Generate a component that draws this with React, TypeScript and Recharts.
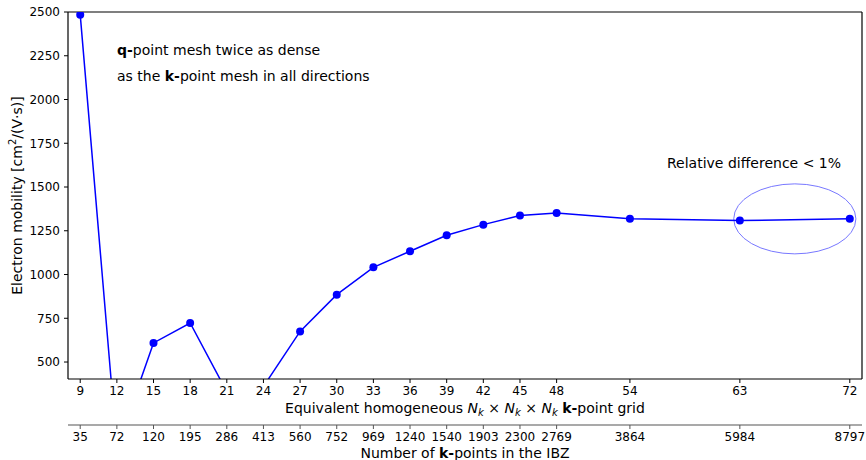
import {
  Line,
  LineChart,
  ReferenceArea,
  ReferenceLine,
  XAxis,
  YAxis,
} from "recharts";

// Nk for the homogeneous k-point grid, and matching number of k-points in the IBZ
const kGrid = [9, 12, 15, 18, 21, 24, 27, 30, 33, 36, 39, 42, 45, 48, 54, 63, 72];
const kPointsIBZ = [
  35, 72, 120, 195, 286, 413, 560, 752, 969, 1240, 1540, 1903, 2300, 2769,
  3864, 5984, 8797,
];
// electron mobility in cm^2/(V s); 12, 21 and 24 fall below the visible range
const mobility = [
  2485, 10, 609, 723, 330, 360, 675, 885, 1041, 1133, 1224, 1285, 1337, 1352,
  1318, 1308, 1318,
];
const yTicks = [500, 750, 1000, 1250, 1500, 1750, 2000, 2250, 2500];
const xDomain = [8, 73];
const yDomain = [403, 2500];

// converged region marked with an ellipse
const convergedX = [62.5, 72.5];
const convergedY = [1118, 1518];

const data = kGrid.map((k, i) => ({
  k,
  kpts: kPointsIBZ[i],
  mobility: mobility[i],
}));

const FONT = "'DejaVu Sans', sans-serif";
const tickStyle = { fontSize: 12, fill: "#000", fontFamily: FONT };

function GridLabel({ viewBox }: any) {
  const cx = viewBox.x + viewBox.width / 2;
  return (
    <text
      x={cx}
      y={viewBox.y + 34}
      textAnchor="middle"
      fontSize={14}
      fontFamily={FONT}
      fill="#000"
    >
      Equivalent homogeneous <tspan fontStyle="italic">N</tspan>
      <tspan fontStyle="italic" fontSize={10} dy={3}>k</tspan>
      <tspan dy={-3}> × </tspan>
      <tspan fontStyle="italic">N</tspan>
      <tspan fontStyle="italic" fontSize={10} dy={3}>k</tspan>
      <tspan dy={-3}> × </tspan>
      <tspan fontStyle="italic">N</tspan>
      <tspan fontStyle="italic" fontSize={10} dy={3}>k</tspan>
      <tspan dy={-3}> </tspan>
      <tspan fontWeight="bold">k-</tspan>point grid
    </text>
  );
}

function KptsLabel({ viewBox }: any) {
  const cx = viewBox.x + viewBox.width / 2;
  return (
    <text
      x={cx}
      y={viewBox.y + 33}
      textAnchor="middle"
      fontSize={14}
      fontFamily={FONT}
      fill="#000"
    >
      Number of <tspan fontWeight="bold">k-</tspan>points in the IBZ
    </text>
  );
}

function MobilityLabel({ viewBox }: any) {
  const cx = viewBox.x + 17;
  const cy = viewBox.y + viewBox.height / 2;
  return (
    <text
      x={cx}
      y={cy}
      transform={`rotate(-90, ${cx}, ${cy})`}
      textAnchor="middle"
      dominantBaseline="central"
      fontSize={14}
      fontFamily={FONT}
      fill="#000"
    >
      Electron mobility [cm<tspan fontSize={10} dy={-5}>2</tspan>
      <tspan dy={5}>/(V·s)]</tspan>
    </text>
  );
}

function EllipseShape(props: any) {
  const { x, y, width, height } = props;
  return (
    <ellipse
      cx={x + width / 2}
      cy={y + height / 2}
      rx={width / 2}
      ry={height / 2}
      fill="none"
      stroke="#7878ff"
      strokeWidth={1}
    />
  );
}

const noteStyle = {
  position: "absolute" as const,
  fontFamily: FONT,
  fontSize: 14,
  color: "#000",
  whiteSpace: "nowrap" as const,
};

export default function App() {
  return (
    <div style={{ position: "absolute", left: 0, top: 0, width: 866, height: 460 }}>
      <LineChart
        width={866}
        height={460}
        data={data}
        margin={{ top: 12, right: 4, left: 0, bottom: 0 }}
      >
        <XAxis
          xAxisId="grid"
          dataKey="k"
          type="number"
          domain={xDomain}
          ticks={kGrid}
          height={46}
          tick={tickStyle}
          tickSize={4}
          tickMargin={3}
          axisLine={{ stroke: "#000", strokeWidth: 1.2 }}
          tickLine={{ stroke: "#000" }}
          label={<GridLabel />}
        />
        <XAxis
          xAxisId="kpts"
          dataKey="k"
          type="number"
          domain={xDomain}
          ticks={kGrid}
          tickFormatter={(v: number) => String(kPointsIBZ[kGrid.indexOf(v)])}
          height={35}
          tick={tickStyle}
          tickSize={4}
          tickMargin={3}
          axisLine={{ stroke: "#555", strokeWidth: 1.2 }}
          tickLine={{ stroke: "#555" }}
          label={<KptsLabel />}
        />
        <YAxis
          yAxisId="left"
          type="number"
          domain={yDomain}
          ticks={yTicks}
          allowDataOverflow
          width={68}
          tick={tickStyle}
          tickSize={4}
          tickMargin={4}
          axisLine={{ stroke: "#000", strokeWidth: 1.2 }}
          tickLine={{ stroke: "#000" }}
          label={<MobilityLabel />}
        />
        {/* top and right frame */}
        <ReferenceLine
          xAxisId="grid"
          yAxisId="left"
          y={yDomain[1]}
          stroke="#000"
          strokeWidth={1.2}
        />
        <ReferenceLine
          xAxisId="grid"
          yAxisId="left"
          x={xDomain[1]}
          stroke="#000"
          strokeWidth={1.2}
        />
        <ReferenceArea
          xAxisId="grid"
          yAxisId="left"
          x1={convergedX[0]}
          x2={convergedX[1]}
          y1={convergedY[0]}
          y2={convergedY[1]}
          shape={<EllipseShape />}
        />
        <Line
          xAxisId="grid"
          yAxisId="left"
          dataKey="mobility"
          stroke="#0000ff"
          strokeWidth={1.5}
          dot={{ r: 4, fill: "#0000ff", stroke: "none" }}
          activeDot={false}
          isAnimationActive={false}
        />
      </LineChart>
      <div style={{ ...noteStyle, left: 117, top: 42 }}>
        <b>q-</b>point mesh twice as dense
      </div>
      <div style={{ ...noteStyle, left: 117, top: 68 }}>
        as the <b>k-</b>point mesh in all directions
      </div>
      <div style={{ ...noteStyle, left: 667, top: 155 }}>
        Relative difference &lt; 1%
      </div>
    </div>
  );
}
